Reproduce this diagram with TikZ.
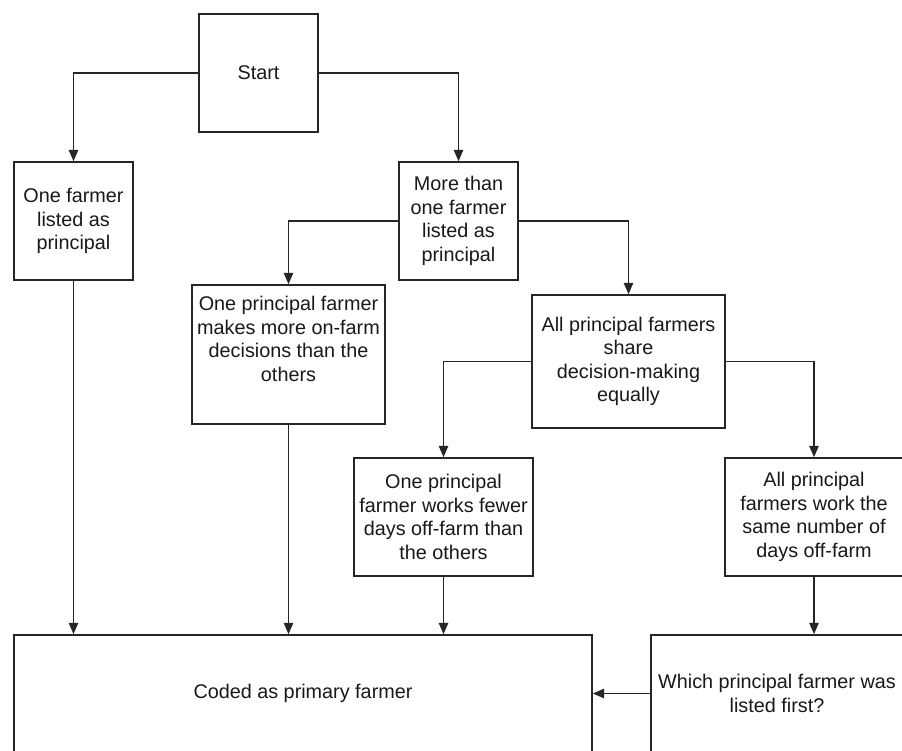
\documentclass[tikz,border=0pt]{standalone}
\usepackage{fontspec}
\setmainfont{Liberation Sans}
\usetikzlibrary{arrows.meta}
\tikzset{
  box/.style={draw=black!85, line width=1.2pt, align=center, inner sep=0pt,
    font=\fontsize{14.85pt}{17.6pt}\selectfont, text=black!90},
  conn/.style={draw=black!85, line width=1.2pt,
    -{Triangle[length=8.5pt,width=7pt]}}
}
\begin{document}
\begin{tikzpicture}[x=0.75pt,y=-0.75pt]
\fill[white] (0,0) rectangle (902,750);
\useasboundingbox (0,0) rectangle (902,750);
\clip (0,0) rectangle (902,750);

\node[box, minimum width=89.25pt, minimum height=88.5pt] (start) at (258.5,73) {Start};
\node[box, minimum width=89.25pt, minimum height=88.5pt] (one) at (73.5,221) {One farmer\\listed as\\principal};
\node[box, minimum width=89.25pt, minimum height=88.5pt] (more) at (458.5,221) {More than\\one farmer\\listed as\\principal};
\node[box, minimum width=144.75pt, minimum height=104.25pt] (opm) at (288.5,354.5) {One principal farmer\\makes more on-farm\\decisions than the\\others\\[6pt]};
\node[box, minimum width=144.75pt, minimum height=99.75pt] (share) at (628.5,361.5) {All principal farmers\\share\\decision-making\\equally};
\node[box, minimum width=134.25pt, minimum height=88.5pt] (fewer) at (443.5,517) {One principal\\farmer works fewer\\days off-farm than\\the others};
\node[box, minimum width=133.5pt, minimum height=88.5pt] (same) at (814,517) {All principal\\farmers work the\\same number of\\days off-farm};
\node[box, minimum width=433.5pt, minimum height=87.75pt] (coded) at (303,693.5) {Coded as primary farmer};
\node[box, minimum width=189pt, minimum height=87.75pt] (which) at (777,693.5) {Which principal farmer was\\listed first?};

\draw[conn] (start.west) -| (one.north);
\draw[conn] (start.east) -| (more.north);
\draw[conn] (more.west) -| (opm.north);
\draw[conn] (more.east) -| (share.north);
\draw[conn] (share.west) -| (fewer.north);
\draw[conn] (share.east) -| (same.north);
\draw[conn] (one.south) -- (one.south |- coded.north);
\draw[conn] (opm.south) -- (opm.south |- coded.north);
\draw[conn] (fewer.south) -- (fewer.south |- coded.north);
\draw[conn] (same.south) -- (same.south |- which.north);
\draw[conn] (which.west) -- (coded.east);
\end{tikzpicture}
\end{document}
